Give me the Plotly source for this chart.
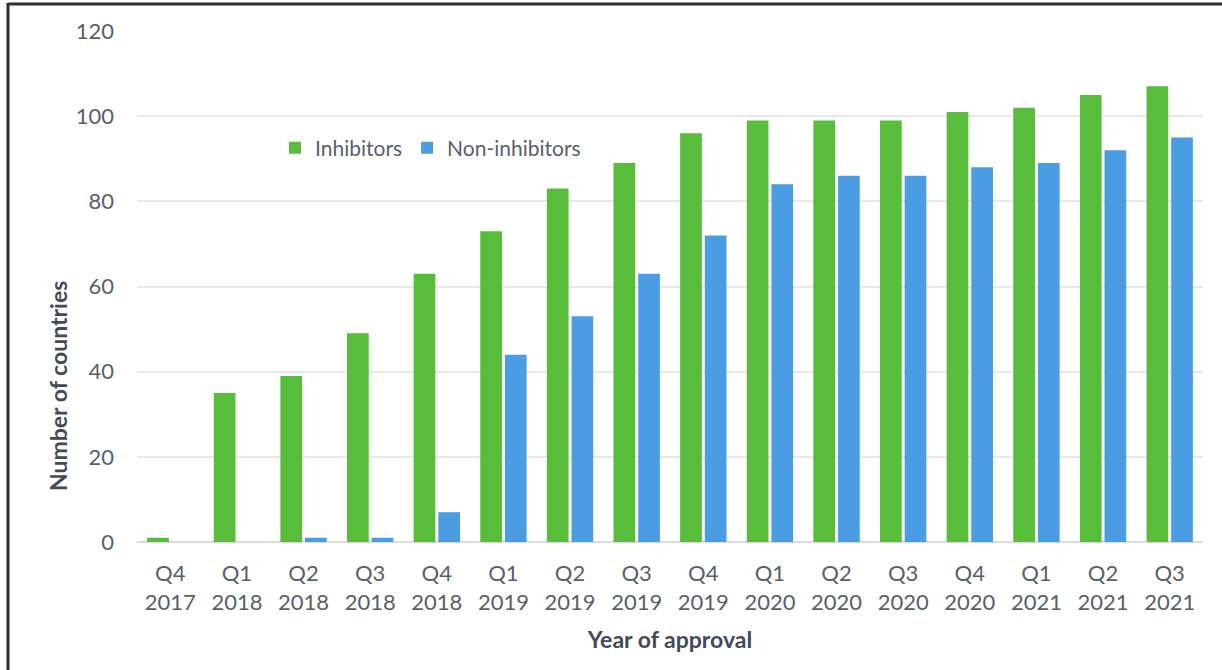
import plotly.graph_objects as go

quarters = ["Q4<br>2017", "Q1<br>2018", "Q2<br>2018", "Q3<br>2018", "Q4<br>2018",
            "Q1<br>2019", "Q2<br>2019", "Q3<br>2019", "Q4<br>2019",
            "Q1<br>2020", "Q2<br>2020", "Q3<br>2020", "Q4<br>2020",
            "Q1<br>2021", "Q2<br>2021", "Q3<br>2021"]
inhibitors = [1, 35, 39, 49, 63, 73, 83, 89, 96, 99, 99, 99, 101, 102, 105, 107]
non_inhibitors = [0, 0, 1, 1, 7, 44, 53, 63, 72, 84, 86, 86, 88, 89, 92, 95]
y_ticks = [0, 20, 40, 60, 80, 100, 120]

FONT = "Lato"
TICK_COLOR = "#575f6c"
TITLE_COLOR = "#414b5a"

fig = go.Figure()
fig.add_trace(go.Bar(x=quarters, y=inhibitors, name="Inhibitors",
                     marker=dict(color="#57bd3a", line=dict(width=0))))
fig.add_trace(go.Bar(x=quarters, y=non_inhibitors, name="Non-inhibitors",
                     marker=dict(color="#4a9ce3", line=dict(width=0))))

L, R, T, B = 137, 19, 31, 128
W, H = 1222, 670
pw, ph = W - L - R, H - T - B

def px_x(x):
    return (x - L) / pw

def px_y(y):
    return (H - B - y) / ph

fig.update_layout(
    width=W, height=H,
    margin=dict(l=L, r=R, t=T, b=B, pad=0),
    paper_bgcolor="white", plot_bgcolor="white",
    barmode="group", bargap=0.26, bargroupgap=0.12,
    font=dict(family=FONT, size=22, color=TICK_COLOR),
    showlegend=True,
    legend=dict(orientation="h", x=px_x(275), y=px_y(148), xanchor="left", yanchor="middle",
                font=dict(family=FONT, size=21, color=TICK_COLOR),
                bgcolor="rgba(0,0,0,0)", itemsizing="constant", traceorder="normal",
                itemwidth=30),
    xaxis=dict(title=dict(text="<b>Year of approval</b>", font=dict(family=FONT, size=23, color=TITLE_COLOR), standoff=18),
               tickfont=dict(family=FONT, size=22, color=TICK_COLOR),
               showgrid=False, showline=False, zeroline=False, ticks="", ticklabelstandoff=16),
    yaxis=dict(range=[0, 120], tickvals=y_ticks,
               tickfont=dict(family=FONT, size=22, color=TICK_COLOR),
               showgrid=True, gridcolor="#e9e9e9", gridwidth=1.5,
               zeroline=True, zerolinecolor="#dcdcdc", zerolinewidth=1.5,
               showline=False, ticks="", ticklabelstandoff=22),
    annotations=[
        dict(text="<b>Number of countries</b>", textangle=-90, xref="paper", yref="paper",
             x=px_x(58), y=px_y(386), xanchor="center", yanchor="middle", showarrow=False,
             font=dict(family=FONT, size=23, color=TITLE_COLOR)),
    ],
    shapes=[
        dict(type="line", xref="paper", yref="paper", x0=px_x(8), x1=px_x(W + 5), y0=px_y(4), y1=px_y(4),
             line=dict(color="#2e2e2e", width=3)),
        dict(type="line", xref="paper", yref="paper", x0=px_x(8), x1=px_x(8), y0=px_y(3), y1=px_y(H + 5),
             line=dict(color="#2e2e2e", width=3)),
    ],
)

fig.write_html("out.html")
